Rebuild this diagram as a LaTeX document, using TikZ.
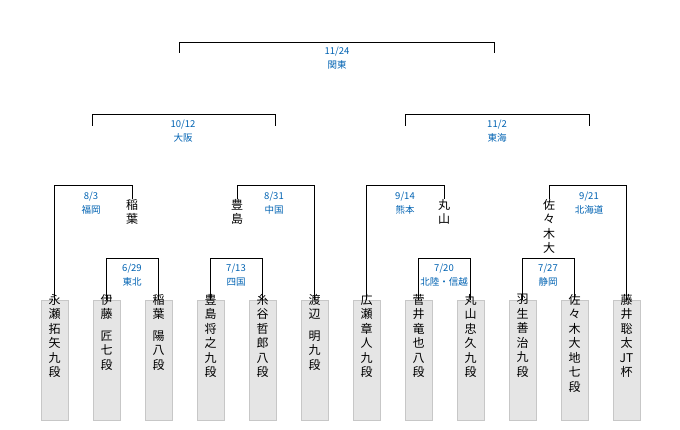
\documentclass[tikz,border=0pt]{standalone}
\usepackage{fontspec}
\setmainfont{Noto Sans CJK JP}
\begin{document}
\begin{tikzpicture}[x=1pt,y=-1pt,
  box/.style={draw=black!22,fill=black!10,line width=1pt,minimum width=27pt,minimum height=120pt,anchor=north,inner sep=0},
  nm/.style={anchor=north,align=center,font=\fontsize{12}{14.5}\selectfont,inner sep=0},
  lab/.style={align=center,text=blue!45!cyan!70!black,font=\fontsize{9.5}{14}\selectfont,inner sep=0,anchor=north},
  ln/.style={line width=0.8pt}]
\useasboundingbox (0,0) rectangle (680,430);
\foreach \i/\t in {1/永\\瀬\\拓\\矢\\九\\段,2/伊\\藤\\[7pt]匠\\七\\段,3/稲\\葉\\[7pt]陽\\八\\段,4/豊\\島\\将\\之\\九\\段,5/糸\\谷\\哲\\郎\\八\\段,6/渡\\辺\\[7pt]明\\九\\段,7/広\\瀬\\章\\人\\九\\段,8/菅\\井\\竜\\也\\八\\段,9/丸\\山\\忠\\久\\九\\段,10/羽\\生\\善\\治\\九\\段,11/佐\\々\\木\\大\\地\\七\\段,12/藤\\井\\聡\\太\\JT\\杯}{
  \node[box] (p\i) at ({54.5+52*(\i-1)},300) {};
  \node[nm] (t\i) at ([yshift=6]p\i.north) {\t};
}
% first round
\draw[ln] (p2.north) -- ++(0,-42) -| (p3.north);
\draw[ln] (p4.north) -- ++(0,-42) -| (p5.north);
\draw[ln] (p8.north) -- ++(0,-42) -| (p9.north);
\draw[ln] (p10.north) -- ++(0,-42) -| (p11.north);
\node[lab] (l1) at (132,264) {6/29\\東北};
\node[lab] (l2) at (236,264) {7/13\\四国};
\node[lab] (l3) at (444,264) {7/20\\北陸・信越};
\node[lab] (l4) at (548,264) {7/27\\静岡};
% winners
\node[nm] (w1) at (132,199) {稲\\葉};
\node[nm] (w2) at (237,199) {豊\\島};
\node[nm] (w3) at (444,199) {丸\\山};
\node[nm] (w4) at (549,199) {佐\\々\\木\\大};
\draw[ln] (p1.north) -- (p1.north |- 0,185) -| (w1.north);
\draw[ln] (p6.north) -- (p6.north |- 0,185) -| (w2.north);
\draw[ln] (p7.north) -- (p7.north |- 0,185) -| (w3.north);
\draw[ln] (p12.north) -- (p12.north |- 0,185) -| (w4.north);
\node[lab] (l5) at (91,192) {8/3\\福岡};
\node[lab] (l6) at (274,192) {8/31\\中国};
\node[lab] (l7) at (405,192) {9/14\\熊本};
\node[lab] (l8) at (589,192) {9/21\\北海道};
% semis
\coordinate (s1) at (92,126); \coordinate (s2) at (275,126);
\coordinate (s3) at (405,126); \coordinate (s4) at (589,126);
\draw[ln] (s1) -- (92,114) -- (275,114) -- (s2);
\draw[ln] (s3) -- (405,114) -- (589,114) -- (s4);
\node[lab] (l9) at (183,120) {10/12\\大阪};
\node[lab] (l10) at (497,120) {11/2\\東海};
% final
\coordinate (f1) at (179,53); \coordinate (f2) at (494,53);
\draw[ln] (f1) -- (179,42) -- (494,42) -- (f2);
\node[lab] (l11) at (337,47) {11/24\\関東};
\end{tikzpicture}
\end{document}
